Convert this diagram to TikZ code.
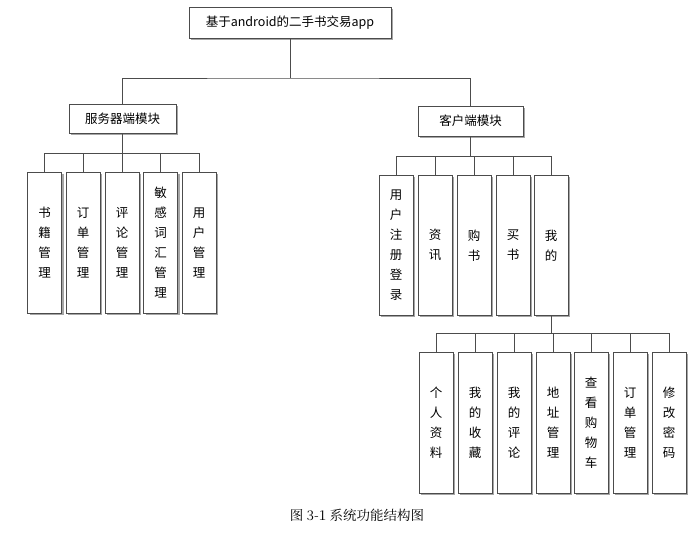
\documentclass[tikz,border=0pt]{standalone}
\usepackage{fontspec}
\setmainfont{Noto Sans CJK SC}
\newfontfamily\capfont{Noto Serif CJK SC}
\usetikzlibrary{shadows}
\begin{document}
\begin{tikzpicture}[x=1pt,y=-1pt,
  bx/.style={draw=black!70,fill=white,line width=0.6pt,inner sep=0pt,font=\fontsize{12.5}{20}\selectfont,
    drop shadow={shadow xshift=2pt,shadow yshift=-2pt,fill=black!35,opacity=1}},
  ln/.style={draw=black!70,line width=0.6pt}]
\useasboundingbox (0,0) rectangle (697,536);
\newcommand\hb[5]{\node[bx,minimum width=#3pt,minimum height=#4pt] (#1) at (#2) {#5};}
\hb{top}{290,22.5}{202}{31}{基于android的二手书交易app}
\hb{srv}{122.5,118.5}{107}{29}{服务器端模块}
\hb{cli}{470.5,121}{105}{30}{客户端模块}
\draw[ln] (top.south) -- (290,78) coordinate (b0);
\draw[ln] (srv.north) |- (b0) -| (cli.north);
% server children
\foreach \n/\x/\t in {s1/44.5/书\\籍\\管\\理, s2/83/订\\单\\管\\理, s3/122/评\\论\\管\\理, s4/160.5/敏\\感\\词\\汇\\管\\理, s5/199/用\\户\\管\\理}{
  \node[bx,minimum width=34pt,minimum height=141pt,align=center] (\n) at (\x,242.5) {\t};
}
\draw[ln] (srv.south) -- (122.5,153) coordinate (b1);
\foreach \n in {s1,s2,s3,s4,s5}{\draw[ln] (\n.north) |- (b1);}
% client children
\foreach \n/\x/\t in {c1/396/用\\户\\注\\册\\登\\录, c2/435/资\\讯, c3/474/购\\书, c4/513/买\\书, c5/551/我\\的}{
  \node[bx,minimum width=34pt,minimum height=140pt,align=center,anchor=north] (\n) at (\x,175) {\t};
}
\draw[ln] (cli.south) -- (470.5,156) coordinate (b2);
\foreach \n in {c1,c2,c3,c4,c5}{\draw[ln] (\n.north) |- (b2);}
% my children
\foreach \n/\x/\t in {m1/436/个\\人\\资\\料, m2/475/我\\的\\收\\藏, m3/514/我\\的\\评\\论, m4/553/地\\址\\管\\理, m5/591/查\\看\\购\\物\\车, m6/630/订\\单\\管\\理, m7/669/修\\改\\密\\码}{
  \node[bx,minimum width=34pt,minimum height=141pt,align=center] (\n) at (\x,422.5) {\t};
}
\draw[ln] (c5.south) -- (551,333) coordinate (b3);
\foreach \n in {m1,m2,m3,m4,m5,m6,m7}{\draw[ln] (\n.north) |- (b3);}
\node[font=\capfont\fontsize{13.5}{15}\selectfont] (cap) at (357,515) {图 3-1 系统功能结构图};
\end{tikzpicture}
\end{document}
